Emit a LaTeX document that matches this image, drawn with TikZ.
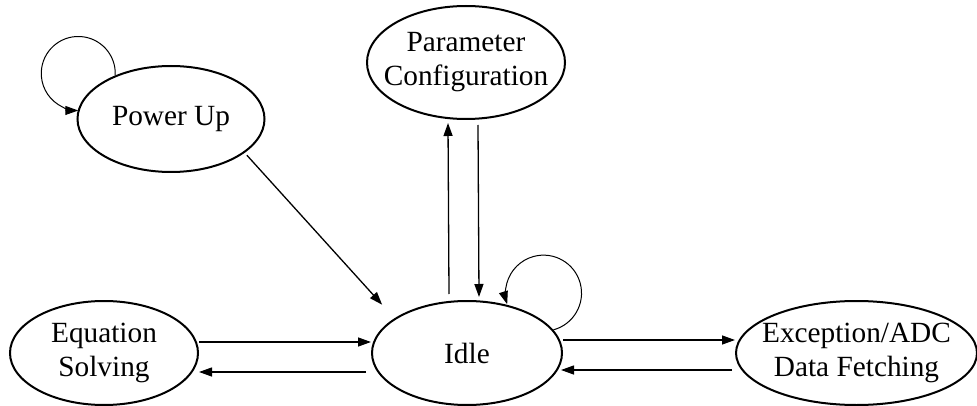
\documentclass[tikz,border=0pt]{standalone}
\usepackage{fontspec}
\setmainfont{Liberation Serif}
\usetikzlibrary{shapes.geometric,arrows.meta}
\begin{document}
\begin{tikzpicture}[x=1pt,y=-1pt,
  state/.style={draw,ellipse,line width=2pt,inner sep=0pt},
  lbl/.style={inner sep=0pt,align=center,font=\fontsize{29.3}{34}\selectfont},
  arr/.style={line width=1.3pt,-{Triangle[length=13pt,width=9pt]}},
  loopy/.style={line width=1pt,-{Triangle[length=13pt,width=9pt]}}]
\useasboundingbox (0,0) rectangle (977,406);
\node[state,minimum width=187pt,minimum height=106pt] (pu) at (171,119) {};
\node[state,minimum width=198pt,minimum height=113pt] (pc) at (466,62.5) {};
\node[state,minimum width=190pt,minimum height=104pt] (idle) at (467,353) {};
\node[state,minimum width=188pt,minimum height=104pt] (eq) at (104,353) {};
\node[state,minimum width=241pt,minimum height=104pt] (ex) at (856.5,353) {};
\node[lbl] at (pu) {Power Up};
\node[lbl] at (pc) {Parameter\\Configuration};
\node[lbl] at (idle) {Idle};
\node[lbl] at (eq) {Equation\\Solving};
\node[lbl] at (ex) {Exception/ADC\\Data Fetching};
% self loops
\draw[loopy] (pu.142) arc[start angle=-3,end angle=270,radius=37pt];
\draw[loopy] (idle.15) arc[start angle=-75,end angle=197,radius=38pt];
% power up to idle
\draw[arr] ([yshift=-4pt]pu.-23) -- ([xshift=-18.5pt,yshift=10pt]idle.150);
% parameter configuration
\draw[arr] ([xshift=-18pt,yshift=6pt]idle.north) -- ([xshift=-18pt,yshift=-3pt]pc.south);
\draw[arr] ([xshift=12pt,yshift=-5pt]pc.south) -- ([xshift=12pt,yshift=3pt]idle.north);
% equation solving
\draw[arr] ([yshift=11pt]eq.east) -- ([yshift=11pt]idle.west);
\draw[arr] ([xshift=-5pt,yshift=-19pt]idle.west) -- ([yshift=-19pt]eq.east);
% exception
\draw[arr] ([yshift=13pt]idle.east) -- ([yshift=13pt]ex.west);
\draw[arr] ([xshift=-3pt,yshift=-17pt]ex.west) -- ([xshift=-2pt,yshift=-17pt]idle.east);
\end{tikzpicture}
\end{document}
